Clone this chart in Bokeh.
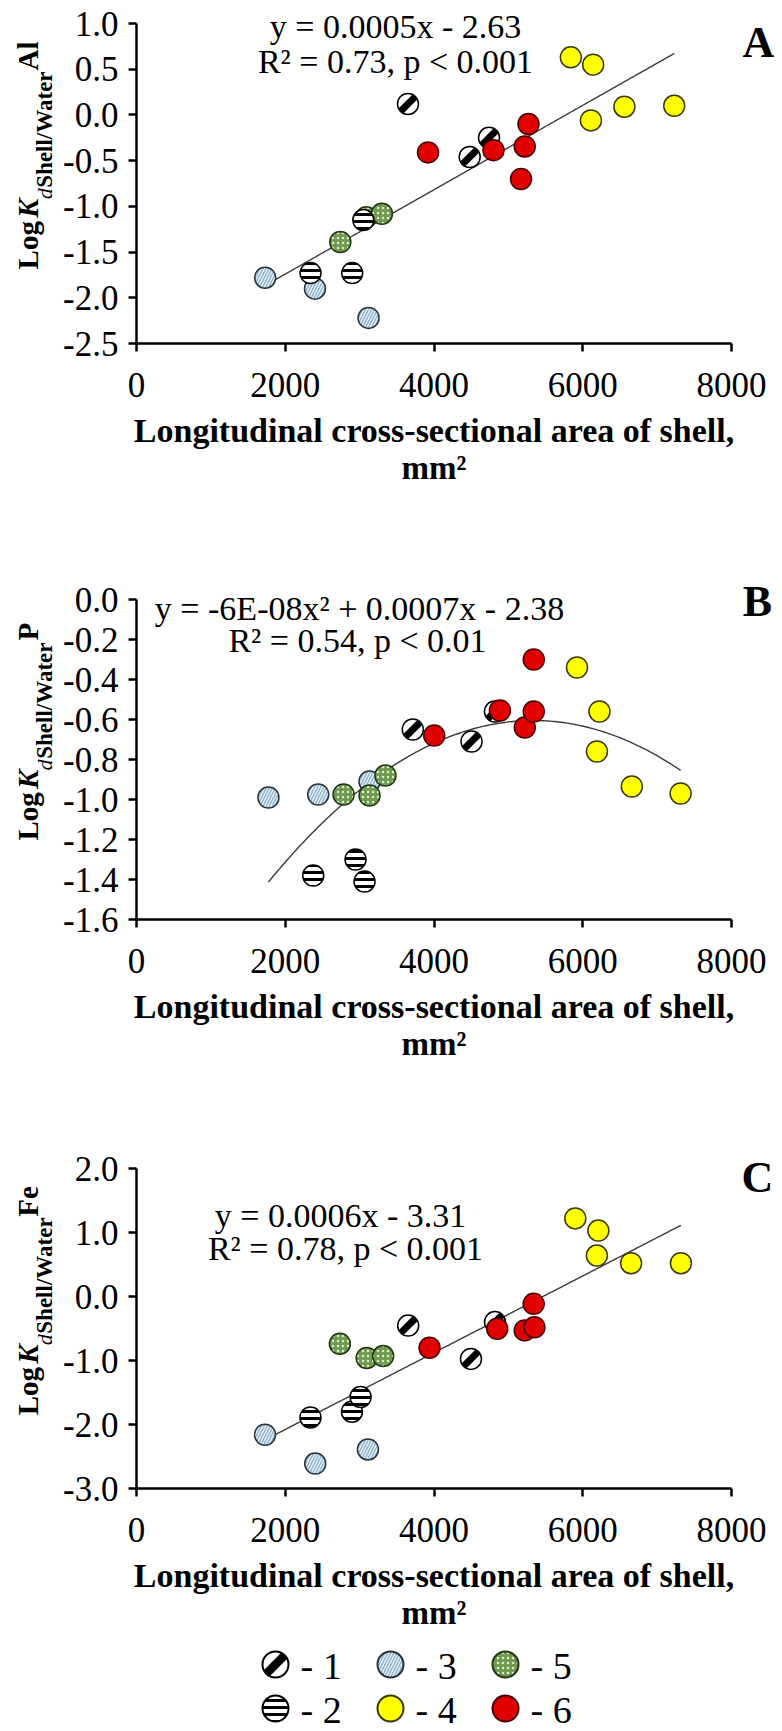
import numpy as np
from math import pi
from bokeh.plotting import figure
from bokeh.models import Range1d, FixedTicker
from bokeh.layouts import column, row
from bokeh.embed import file_html
from bokeh.resources import INLINE
from bokeh.core.properties import value

# ---------------- data ----------------
x_ticks = [0, 2000, 4000, 6000, 8000]
x_tick_labels = ["0", "2000", "4000", "6000", "8000"]
x_title = "Longitudinal cross-sectional area of shell,"
x_unit = "mm\u00b2"
groups = ["1", "2", "3", "4", "5", "6"]

# Panel A: Log Kd Shell/Water Al
a_x1 = [3650, 4480, 4740]
a_y1 = [0.12, -0.46, -0.25]
a_x2 = [2340, 2900, 3050]
a_y2 = [-1.73, -1.73, -1.15]
a_x3 = [1730, 2400, 3120]
a_y3 = [-1.78, -1.90, -2.22]
a_x4 = [5840, 6140, 6110, 6560, 7230]
a_y4 = [0.63, 0.55, -0.06, 0.09, 0.10]
a_x5 = [2740, 3090, 3300]
a_y5 = [-1.39, -1.12, -1.08]
a_x6 = [3920, 4800, 5170, 5220, 5270]
a_y6 = [-0.41, -0.385, -0.70, -0.345, -0.10]
a_yticks = [-2.5, -2.0, -1.5, -1.0, -0.5, 0.0, 0.5, 1.0]
a_ylabels = ["-2.5", "-2.0", "-1.5", "-1.0", "-0.5", "0.0", "0.5", "1.0"]
a_eq = ["y = 0.0005x - 2.63", "R\u00b2 = 0.73, p < 0.001"]

# Panel B: Log Kd Shell/Water P
b_x1 = [3715, 4505, 4820]
b_y1 = [-0.65, -0.71, -0.56]
b_x2 = [2376, 2945, 3066]
b_y2 = [-1.38, -1.30, -1.41]
b_x3 = [1774, 2443, 3133]
b_y3 = [-0.99, -0.975, -0.91]
b_x4 = [5923, 6225, 6191, 6660, 7316]
b_y4 = [-0.34, -0.56, -0.76, -0.935, -0.97]
b_x5 = [2784, 3133, 3347]
b_y5 = [-0.975, -0.98, -0.88]
b_x6 = [4003, 4886, 5221, 5341, 5341]
b_y6 = [-0.68, -0.555, -0.64, -0.56, -0.30]
b_yticks = [-1.6, -1.4, -1.2, -1.0, -0.8, -0.6, -0.4, -0.2, 0.0]
b_ylabels = ["-1.6", "-1.4", "-1.2", "-1.0", "-0.8", "-0.6", "-0.4", "-0.2", "0.0"]
b_eq = ["y = -6E-08x\u00b2 + 0.0007x - 2.38", "R\u00b2 = 0.54, p < 0.01"]

# Panel C: Log Kd Shell/Water Fe
c_x1 = [3653, 4497, 4820]
c_y1 = [-0.455, -0.975, -0.40]
c_x2 = [2339, 2897, 3013]
c_y2 = [-1.89, -1.80, -1.57]
c_x3 = [1728, 2403, 3112]
c_y3 = [-2.16, -2.61, -2.39]
c_x4 = [5900, 6210, 6190, 6650, 7320]
c_y4 = [1.22, 1.03, 0.64, 0.52, 0.52]
c_x5 = [2734, 3095, 3316]
c_y5 = [-0.74, -0.96, -0.93]
c_x6 = [3940, 4850, 5220, 5340, 5350]
c_y6 = [-0.80, -0.505, -0.53, -0.115, -0.48]
c_yticks = [-3.0, -2.0, -1.0, 0.0, 1.0, 2.0]
c_ylabels = ["-3.0", "-2.0", "-1.0", "0.0", "1.0", "2.0"]
c_eq = ["y = 0.0006x - 3.31", "R\u00b2 = 0.78, p < 0.001"]

# ---------------- layout / styles ----------------
FONT = "Liberation Serif"
W = 782
YLW = 60            # width of the y-title strip
FL, FW, FH = 136, 595, 320   # axis left (page px), axis length x, axis length y
MB = 64             # bottom border of main figure (tick labels)
MS = 21

STYLE = {
    "1": dict(fill_color="white", line_color="black"),
    "2": dict(fill_color="white", line_color="black", hatch_pattern="-",
              hatch_color="black", hatch_weight=3, hatch_scale=7),
    "3": dict(fill_color="#8fb4cf", line_color="#26323c", hatch_pattern="/",
              hatch_color="#f4f8fb", hatch_weight=1.2, hatch_scale=6),
    "4": dict(fill_color="#ffff00", line_color="#3a3a00"),
    "5": dict(fill_color="#6f9a4f", line_color="#1e3612", hatch_pattern=".",
              hatch_color="#dfeccf", hatch_weight=2, hatch_scale=5),
    "6": dict(fill_color="#e00000", line_color="#4a0000"),
}
DRAW_ORDER = ["3", "5", "1", "2", "4", "6"]


def draw_marker(p, xs, ys, g, size, lw=1.5):
    st = STYLE[g]
    if g == "1":
        p.scatter(xs, ys, marker="circle", size=size, fill_color="white",
                  line_color=None)
        p.scatter(xs, ys, marker="dash", size=size * 0.95, angle=pi / 4,
                  line_color="black", line_width=size * 0.33)
        p.scatter(xs, ys, marker="circle", size=size, fill_color=None,
                  line_color="black", line_width=lw)
    else:
        p.scatter(xs, ys, marker="circle", size=size, line_width=lw, **st)


def text_fig(w, h):
    f = figure(width=w, height=h, x_range=Range1d(0, w), y_range=Range1d(h, 0),
               x_axis_type=None, y_axis_type=None, min_border=0,
               output_backend="svg", toolbar_location=None, tools="")
    f.grid.visible = False
    f.outline_line_color = None
    f.background_fill_color = "white"
    f.border_fill_color = "white"
    return f


def put_text(f, x, y, text, size, style="normal", align="center",
             baseline="middle", angle=0.0):
    f.text([x], [y], text=[text], text_font=value(FONT),
           text_font_size=f"{size}px", text_font_style=value(style),
           text_align=align, text_baseline=baseline, angle=angle,
           text_color="black")


def make_panel(series, yr, yticks, ylabels, eq, eq_pos, letter, letter_pos,
               element, bt, panel_h, deg):
    ymin, ymax = yr
    fh = bt + FH                      # frame height incl. room above the axis
    fw = W - FL                       # frame width incl. room right of axis
    y_top = ymin + (ymax - ymin) * fh / FH
    x_right = 8000.0 * fw / FW
    p = figure(frame_width=fw, frame_height=fh,
               x_range=Range1d(0, x_right), y_range=Range1d(ymin, y_top),
               min_border_left=FL - YLW, min_border_right=0,
               min_border_top=0, min_border_bottom=MB,
               output_backend="svg", toolbar_location=None, tools="")
    p.outline_line_color = None
    p.grid.visible = False
    p.background_fill_color = "white"
    p.border_fill_color = "white"

    for ax in (p.xaxis[0], p.yaxis[0]):
        ax.axis_line_width = 2.5
        ax.axis_line_color = "black"
        ax.major_tick_line_width = 2.5
        ax.major_tick_line_color = "black"
        ax.major_tick_out = 8
        ax.major_tick_in = 0
        ax.minor_tick_line_color = None
        ax.major_label_text_font = FONT
        ax.major_label_text_font_size = "35px"
        ax.major_label_text_color = "black"
    p.xaxis.bounds = (0, 8000)
    p.yaxis.bounds = (ymin, ymax)
    p.xaxis.ticker = FixedTicker(ticks=x_ticks)
    p.xaxis.major_label_overrides = {t: l for t, l in zip(x_ticks, x_tick_labels)}
    p.xaxis.major_label_standoff = 21
    p.yaxis.ticker = FixedTicker(ticks=yticks)
    p.yaxis.major_label_overrides = {t: l for t, l in zip(yticks, ylabels)}
    p.yaxis.major_label_standoff = 10

    # trend line fitted on all points
    allx = np.concatenate([np.asarray(s[0], float) for s in series.values()])
    ally = np.concatenate([np.asarray(s[1], float) for s in series.values()])
    coef = np.polyfit(allx, ally, deg)
    xx = np.linspace(allx.min(), allx.max(), 200)
    p.line(xx, np.polyval(coef, xx), line_color="#3c3c3c", line_width=1.4)

    for g in DRAW_ORDER:
        xs, ys = series[g]
        draw_marker(p, xs, ys, g, MS)

    def to_data(px, py):
        return ((px - FL) / FW * 8000.0,
                ymax - (py - bt) / FH * (ymax - ymin))

    # equation and panel letter (inside the frame)
    for (px, py), t in zip(eq_pos, eq):
        x, y = to_data(px, py)
        put_text(p, x, y, t, 34)
    x, y = to_data(*letter_pos)
    put_text(p, x, y, letter, 44, "bold")

    main_h = fh + MB
    # rotated y-axis title strip: Log K_d Shell/Water <element>
    yl = text_fig(YLW, main_h)
    em = {"Al": 1.0, "P": 0.611, "Fe": 1.055}[element]
    # text, size, style, width in em, x of text middle, gap after
    pieces = [
        ("Log", 29, "bold", 1.667, 27, 10),
        ("K", 29, "bold italic", 0.667, 27, 2),
        ("d", 22, "italic", 0.5, 44, 12),
        ("Shell/Water", 23, "bold", 5.111, 44, 14),
        (element, 29, "bold", em, 27, 0),
    ]
    total = sum(s * w + gap for _, s, _, w, _, gap in pieces)
    cur = bt + FH / 2 + total / 2
    for text, size, style, wem, mx, gap in pieces:
        ln = size * wem
        put_text(yl, mx, cur - ln / 2, text, size, style, align="center",
                 baseline="middle", angle=pi / 2)
        cur -= ln + gap

    # x-axis title strip
    th = panel_h - main_h
    xt = text_fig(W, th)
    put_text(xt, FL + FW / 2, 87 - MB, x_title, 34, "bold")
    put_text(xt, FL + FW / 2, 124 - MB, x_unit, 33, "bold")

    return column(row(yl, p, spacing=0), xt, spacing=0)


pA = make_panel({"1": (a_x1, a_y1), "2": (a_x2, a_y2), "3": (a_x3, a_y3),
                 "4": (a_x4, a_y4), "5": (a_x5, a_y5), "6": (a_x6, a_y6)},
                (-2.5, 1.0), a_yticks, a_ylabels, a_eq,
                [(395, 26), (395, 61)], "A", (758, 42), "Al", 23, 574, 1)
pB = make_panel({"1": (b_x1, b_y1), "2": (b_x2, b_y2), "3": (b_x3, b_y3),
                 "4": (b_x4, b_y4), "5": (b_x5, b_y5), "6": (b_x6, b_y6)},
                (-1.6, 0.0), b_yticks, b_ylabels, b_eq,
                [(359, 34), (357, 66)], "B", (757, 27), "P", 25, 574, 2)
pC = make_panel({"1": (c_x1, c_y1), "2": (c_x2, c_y2), "3": (c_x3, c_y3),
                 "4": (c_x4, c_y4), "5": (c_x5, c_y5), "6": (c_x6, c_y6)},
                (-3.0, 2.0), c_yticks, c_ylabels, c_eq,
                [(340, 67), (345, 100)], "C", (757, 29), "Fe", 20, 492, 1)

# ---------------- legend ----------------
LH = 91
pL = text_fig(W, LH)
col_x = [275, 390, 505]
row_y = [24, 68]
for i, g in enumerate(groups):
    mx, my = col_x[i // 2], row_y[i % 2]
    draw_marker(pL, [mx], [my], g, 26, lw=2)
    put_text(pL, mx + 25, my + 1, "- " + g, 38, align="left",
             baseline="middle")

layout = column(pA, pB, pC, pL, spacing=0)
open("out.html", "w").write(file_html(layout, INLINE))
